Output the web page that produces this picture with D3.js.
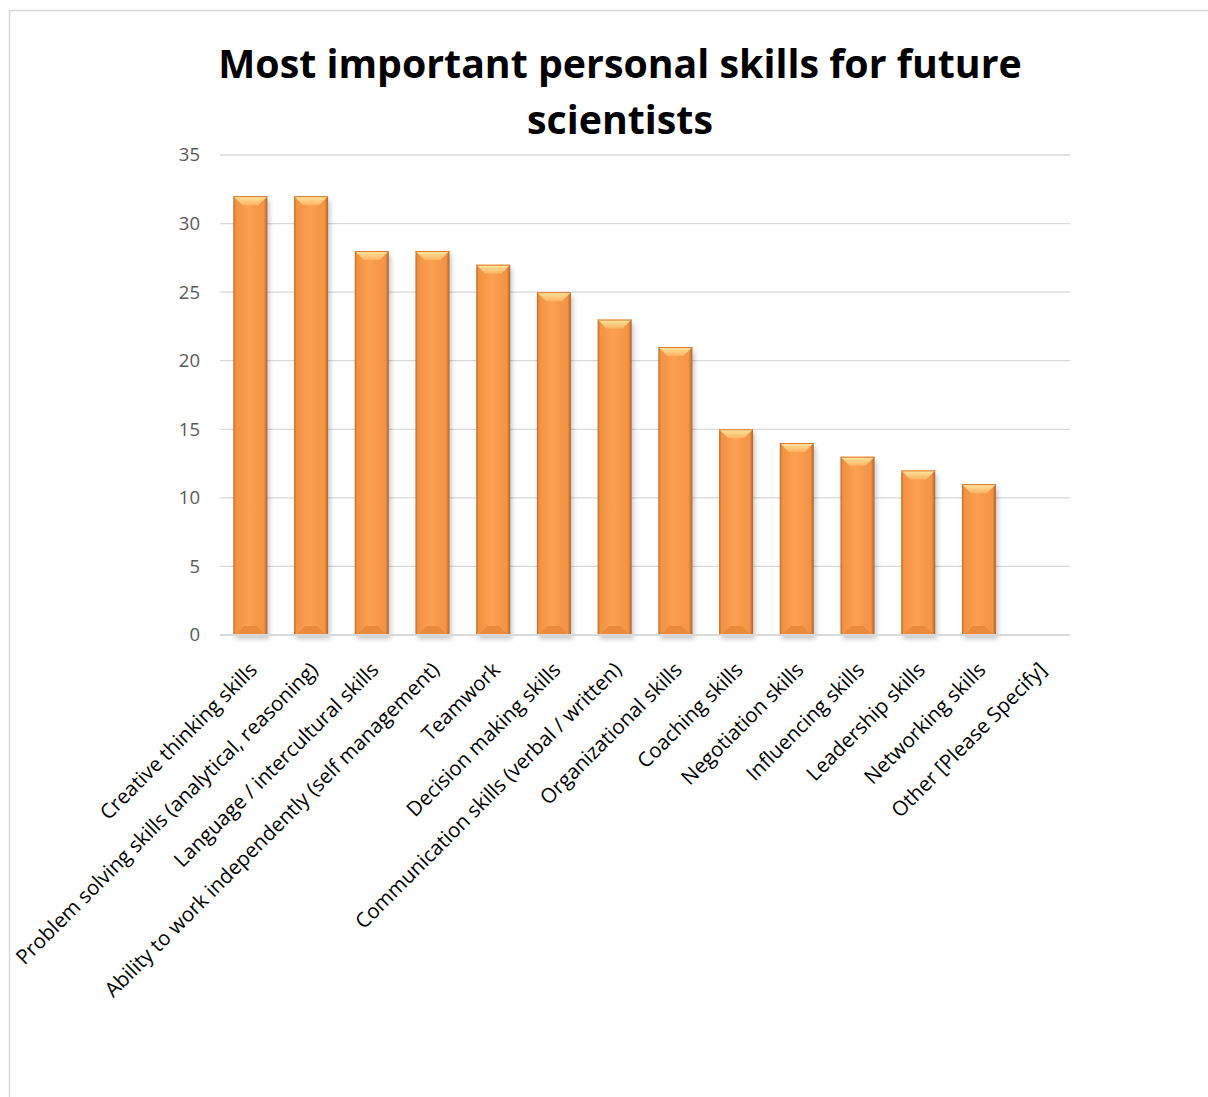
<!DOCTYPE html>
<html>
<head>
<meta charset="utf-8">
<script src="https://cdn.jsdelivr.net/npm/d3@7"></script>
<style>
  body { margin: 0; background: #fff; }
  svg { display: block; }
</style>
</head>
<body>
<div id="chart"></div>
<script>
// chart data
var categories = [
  "Creative thinking skills",
  "Problem solving skills (analytical, reasoning)",
  "Language / intercultural skills",
  "Ability to work independently (self management)",
  "Teamwork",
  "Decision making skills",
  "Communication skills (verbal / written)",
  "Organizational skills",
  "Coaching skills",
  "Negotiation skills",
  "Influencing skills",
  "Leadership skills",
  "Networking skills",
  "Other [Please Specify]"
];
var values = [32, 32, 28, 28, 27, 25, 23, 21, 15, 14, 13, 12, 11, 0];
var yTicks = [0, 5, 10, 15, 20, 25, 30, 35];
var titleLines = ["Most important personal skills for future", "scientists"];

var W = 1208, H = 1097;
var plot = {left: 220, right: 1070, top: 155, bottom: 635};

var svg = d3.select("#chart").append("svg")
  .attr("width", W)
  .attr("height", H);

var defs = svg.append("defs");

// bar face: darker sides, lighter middle
var face = defs.append("linearGradient").attr("id", "barFace")
  .attr("x1", "0").attr("x2", "1").attr("y1", "0").attr("y2", "0");
face.append("stop").attr("offset", "0%").attr("stop-color", "#bb6d30");
face.append("stop").attr("offset", "7%").attr("stop-color", "#f3923f");
face.append("stop").attr("offset", "45%").attr("stop-color", "#fba052");
face.append("stop").attr("offset", "90%").attr("stop-color", "#f49343");
face.append("stop").attr("offset", "100%").attr("stop-color", "#ad642c");

var topBevel = defs.append("linearGradient").attr("id", "topBevel")
  .attr("x1", "0").attr("x2", "0").attr("y1", "0").attr("y2", "1");
topBevel.append("stop").attr("offset", "0%").attr("stop-color", "#ffe9a0");
topBevel.append("stop").attr("offset", "100%").attr("stop-color", "#fbb262");

var shadow = defs.append("filter").attr("id", "shadow")
  .attr("x", "-30%").attr("y", "-30%").attr("width", "160%").attr("height", "160%");
shadow.append("feGaussianBlur").attr("stdDeviation", 2.5);

// chart frame
svg.append("rect")
  .attr("x", 9.5).attr("y", 10.5)
  .attr("width", W + 20).attr("height", H + 20)
  .attr("fill", "#fff")
  .attr("stroke", "#d9d9d9")
  .attr("stroke-width", 1.5);

var x = d3.scaleBand()
  .domain(categories)
  .range([plot.left, plot.right])
  .paddingInner(0.44)
  .paddingOuter(0.22);

var y = d3.scaleLinear()
  .domain([0, 35])
  .range([plot.bottom, plot.top]);

// gridlines
svg.append("g")
  .selectAll("line")
  .data(yTicks.filter(function(d){ return d > 0; }))
  .join("line")
  .attr("x1", plot.left).attr("x2", plot.right)
  .attr("y1", function(d){ return y(d); })
  .attr("y2", function(d){ return y(d); })
  .attr("stroke", "#d9d9d9")
  .attr("stroke-width", 1.3);

// y axis labels
var yAxis = d3.axisLeft(y).tickValues(yTicks).tickSize(0).tickPadding(20);
var yg = svg.append("g")
  .attr("transform", "translate(" + plot.left + ",0)")
  .call(yAxis);
yg.select(".domain").remove();
yg.selectAll("text")
  .attr("fill", "#595959")
  .style("font-family", "'Open Sans', sans-serif")
  .style("font-size", "18.5px");

// bars
var b = 9;
var bars = svg.append("g")
  .selectAll("g")
  .data(categories.map(function(c, i){ return {name: c, value: values[i]}; }))
  .join("g")
  .filter(function(d){ return d.value > 0; });

bars.append("rect")
  .attr("x", function(d){ return x(d.name) + 2; })
  .attr("y", function(d){ return y(d.value) + 4; })
  .attr("width", x.bandwidth())
  .attr("height", function(d){ return y(0) - y(d.value); })
  .attr("fill", "#000")
  .attr("opacity", 0.22)
  .attr("filter", "url(#shadow)");

bars.append("rect")
  .attr("x", function(d){ return x(d.name); })
  .attr("y", function(d){ return y(d.value); })
  .attr("width", x.bandwidth())
  .attr("height", function(d){ return y(0) - y(d.value); })
  .attr("fill", "url(#barFace)");

bars.append("polygon")
  .attr("points", function(d){
    var x0 = x(d.name), x1 = x0 + x.bandwidth(), y0 = y(d.value);
    return [[x0, y0], [x1, y0], [x1 - b, y0 + b], [x0 + b, y0 + b]].join(" ");
  })
  .attr("fill", "url(#topBevel)");

bars.append("polygon")
  .attr("points", function(d){
    var x0 = x(d.name), x1 = x0 + x.bandwidth(), y1 = y(0);
    return [[x0 + 2, y1], [x1 - 2, y1], [x1 - b - 2, y1 - b], [x0 + b + 2, y1 - b]].join(" ");
  })
  .attr("fill", "#ec8a3c");

bars.append("line")
  .attr("x1", function(d){ return x(d.name); })
  .attr("x2", function(d){ return x(d.name) + x.bandwidth(); })
  .attr("y1", function(d){ return y(d.value) + 0.5; })
  .attr("y2", function(d){ return y(d.value) + 0.5; })
  .attr("stroke", "#e07a30")
  .attr("stroke-width", 1);

// baseline
svg.append("line")
  .attr("x1", plot.left).attr("x2", plot.right)
  .attr("y1", y(0)).attr("y2", y(0))
  .attr("stroke", "#d9d9d9")
  .attr("stroke-width", 2);

// category labels
svg.append("g")
  .selectAll("text")
  .data(categories)
  .join("text")
  .attr("transform", function(d){
    return "translate(" + (x(d) + x.bandwidth() / 2 + 3) + "," + (plot.bottom + 31) + ") rotate(-45)";
  })
  .attr("text-anchor", "end")
  .attr("dy", "0.35em")
  .attr("fill", "#000")
  .style("font-family", "'Open Sans', sans-serif")
  .style("font-size", "20.5px")
  .text(function(d){ return d; });

// title
svg.append("g")
  .selectAll("text")
  .data(titleLines)
  .join("text")
  .attr("x", 620)
  .attr("y", function(d, i){ return 78 + i * 56; })
  .attr("text-anchor", "middle")
  .attr("fill", "#000")
  .style("font-family", "'Open Sans', sans-serif")
  .style("font-weight", "bold")
  .style("font-size", "39.3px")
  .text(function(d){ return d; });
</script>
</body>
</html>
